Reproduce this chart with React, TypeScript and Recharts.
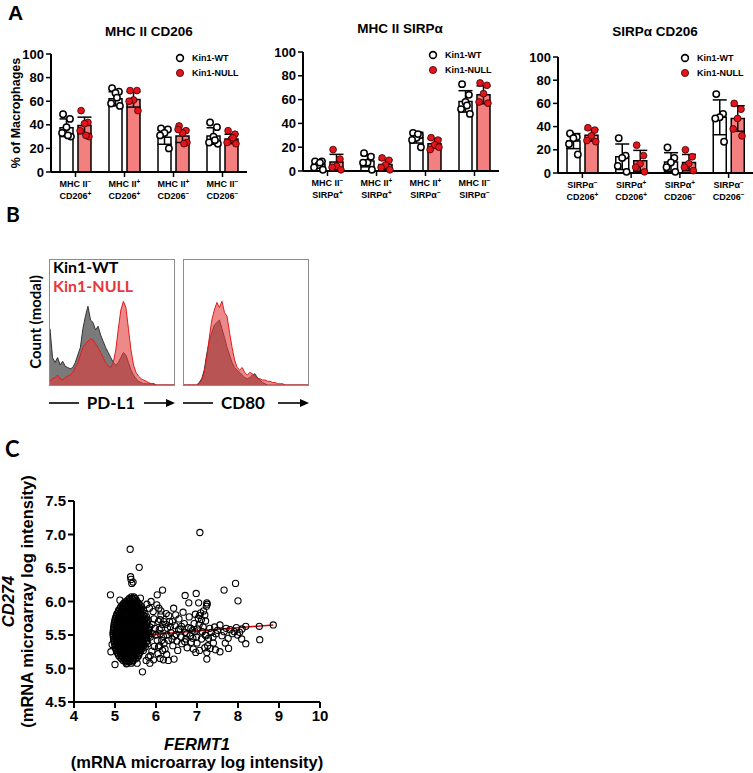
import React from "react";
import {
  ComposedChart,
  Bar,
  ErrorBar,
  Scatter,
  XAxis,
  YAxis,
  AreaChart,
  Area,
  ScatterChart,
  ReferenceLine,
} from "recharts";

const ARIAL = "'Liberation Sans', Arial, sans-serif";
const CALIBRI = "Lato, 'Open Sans', sans-serif";
const RED_DOT = "#e4141b";
const RED_BAR = "#f47f7f";

// ---------- A: macrophage subsets (% of macrophages)
const groups = ["Kin1-WT", "Kin1-NULL"];
const pctTicks = [0, 20, 40, 60, 80, 100];

const cd206Labels = [
  ["MHC II", "-", "CD206", "+"],
  ["MHC II", "+", "CD206", "+"],
  ["MHC II", "+", "CD206", "-"],
  ["MHC II", "-", "CD206", "-"],
];
const cd206WtMean = [37.5, 62, 29.5, 30.5];
const cd206WtSd = [7.5, 6, 6, 7];
const cd206NullMean = [39.5, 61.5, 30.5, 28];
const cd206NullSd = [7, 6.5, 5.5, 4];
const cd206WtDots = [
  [49, 45, 38, 33, 30, 31],
  [71, 68, 67, 58, 56, 63],
  [37, 36, 33, 31, 20],
  [42, 38, 30, 25, 24, 27],
];
const cd206NullDots = [
  [52, 42, 41, 35, 30, 31],
  [69, 69, 61, 60, 52],
  [39, 35, 33, 36, 25, 24],
  [35, 32, 28, 25, 24, 29],
];

const sirpLabels = [
  ["MHC II", "-", "SIRPα", "+"],
  ["MHC II", "+", "SIRPα", "+"],
  ["MHC II", "+", "SIRPα", "-"],
  ["MHC II", "-", "SIRPα", "-"],
];
const sirpWtMean = [5.5, 8.5, 28, 58.5];
const sirpWtSd = [3, 5, 4.5, 9];
const sirpNullMean = [7.5, 5.5, 23, 64];
const sirpNullSd = [6.5, 4, 4, 7.5];
const sirpWtDots = [
  [8, 8, 5, 3, 1, 7],
  [15, 12, 7, 7, 1],
  [32, 30, 28, 26, 20, 31],
  [73, 64, 58, 52, 48, 55],
];
const sirpNullDots = [
  [18, 10, 4, 3, 1],
  [11, 9, 5, 3, 1],
  [28, 26, 22, 18, 20],
  [74, 72, 65, 58, 57],
];

const sirpCdLabels = [
  ["SIRPα", "-", "CD206", "+"],
  ["SIRPα", "+", "CD206", "+"],
  ["SIRPα", "+", "CD206", "-"],
  ["SIRPα", "-", "CD206", "-"],
];
const sirpCdWtMean = [27.5, 14, 9.5, 48];
const sirpCdWtSd = [6.5, 11, 8, 15];
const sirpCdNullMean = [32.5, 10.5, 9, 47];
const sirpCdNullSd = [5, 9, 7, 11];
const sirpCdWtDots = [
  [34, 31, 30, 25, 16],
  [30, 15, 13, 6, 1],
  [22, 13, 9, 5, 1],
  [68, 51, 48, 47, 27],
];
const sirpCdNullDots = [
  [39, 37, 32, 28, 27],
  [24, 15, 8, 5, 1],
  [20, 14, 8, 5, 2],
  [60, 55, 47, 38, 32],
];

// ---------- B: histograms (modal count, % of max per bin)
const pdl1Wt = [
  45, 22, 18, 22, 16, 19, 15, 14, 13, 14, 18, 24, 30, 45, 55, 63, 52, 50, 44, 47,
  40, 35, 30, 26, 22, 18, 16, 18, 22, 26, 24, 18, 12, 8, 5, 3, 2, 1, 1, 1,
  1, 1, 0, 0, 0, 0, 0, 0, 0, 0,
];
const pdl1Null = [
  3, 5, 6, 8, 5, 4, 6, 7, 8, 10, 14, 18, 24, 30, 33, 35, 37, 36, 33, 30,
  26, 22, 18, 15, 14, 18, 28, 45, 60, 67, 62, 45, 28, 16, 10, 7, 5, 4, 3, 2,
  1, 1, 0, 0, 0, 0, 0, 0, 0, 0,
];
const cd80Wt = [
  0, 0, 0, 0, 0, 0, 2, 5, 12, 25, 35, 42, 48, 50, 52, 45, 38, 30, 24, 18,
  14, 12, 10, 8, 6, 5, 6, 8, 9, 6, 4, 2, 1, 0, 0, 0, 0, 0, 0, 0,
  0, 0, 0, 0, 0, 0, 0, 0, 0, 0,
];
const cd80Null = [
  0, 0, 0, 0, 0, 0, 1, 4, 10, 22, 38, 52, 60, 66, 62, 67, 58, 55, 42, 30,
  20, 14, 12, 14, 10, 8, 10, 9, 7, 5, 5, 4, 4, 3, 3, 2, 2, 1, 1, 1,
  0, 0, 0, 0, 0, 0, 0, 0, 0, 0,
];

// ---------- C: FERMT1 vs CD274 microarray intensities
// dense core, rows of [CD274, FERMT1 values]
const coreRows: [number, number[]][] = [
  [6.07, [5.4, 5.46]],
  [6.045, [5.35, 5.42, 5.49]],
  [6.02, [5.31, 5.37, 5.44, 5.52]],
  [5.995, [5.25, 5.32, 5.4, 5.47, 5.54]],
  [5.97, [5.21, 5.28, 5.35, 5.43, 5.5, 5.58]],
  [5.945, [5.18, 5.25, 5.33, 5.4, 5.46, 5.53, 5.61]],
  [5.92, [5.14, 5.21, 5.3, 5.36, 5.42, 5.49, 5.57, 5.65]],
  [5.895, [5.12, 5.19, 5.27, 5.34, 5.41, 5.49, 5.56, 5.63]],
  [5.87, [5.09, 5.17, 5.24, 5.31, 5.38, 5.46, 5.53, 5.61, 5.69]],
  [5.845, [5.08, 5.15, 5.22, 5.3, 5.37, 5.44, 5.51, 5.58, 5.66]],
  [5.82, [5.05, 5.12, 5.19, 5.27, 5.34, 5.41, 5.48, 5.55, 5.63, 5.73]],
  [5.795, [5.04, 5.11, 5.18, 5.26, 5.33, 5.4, 5.47, 5.54, 5.62, 5.7]],
  [5.77, [5.02, 5.09, 5.16, 5.23, 5.31, 5.38, 5.44, 5.51, 5.59, 5.67, 5.77]],
  [5.745, [5.01, 5.08, 5.15, 5.22, 5.3, 5.37, 5.44, 5.51, 5.58, 5.66, 5.75]],
  [5.72, [5.0, 5.07, 5.14, 5.21, 5.28, 5.35, 5.42, 5.49, 5.56, 5.64, 5.72, 5.81]],
  [5.695, [4.99, 5.06, 5.13, 5.2, 5.27, 5.34, 5.41, 5.48, 5.55, 5.62, 5.7, 5.78]],
  [5.67, [4.98, 5.05, 5.12, 5.19, 5.26, 5.33, 5.4, 5.47, 5.54, 5.61, 5.69, 5.78]],
  [5.645, [4.98, 5.05, 5.12, 5.19, 5.26, 5.33, 5.4, 5.47, 5.54, 5.61, 5.68, 5.76]],
  [5.62, [4.97, 5.04, 5.11, 5.18, 5.25, 5.32, 5.39, 5.46, 5.53, 5.6, 5.67, 5.75, 5.85]],
  [5.595, [4.97, 5.04, 5.11, 5.18, 5.25, 5.32, 5.39, 5.46, 5.53, 5.6, 5.67, 5.75, 5.82]],
  [5.57, [4.96, 5.03, 5.1, 5.17, 5.24, 5.31, 5.38, 5.45, 5.52, 5.59, 5.66, 5.74, 5.83]],
  [5.545, [4.96, 5.03, 5.1, 5.17, 5.24, 5.31, 5.38, 5.45, 5.52, 5.59, 5.66, 5.74, 5.82]],
  [5.52, [4.95, 5.02, 5.09, 5.16, 5.23, 5.3, 5.37, 5.44, 5.51, 5.58, 5.65, 5.73, 5.82, 5.91]],
  [5.495, [4.96, 5.03, 5.1, 5.17, 5.24, 5.31, 5.38, 5.45, 5.52, 5.59, 5.66, 5.75, 5.84]],
  [5.47, [4.96, 5.03, 5.1, 5.17, 5.24, 5.31, 5.38, 5.45, 5.52, 5.59, 5.67, 5.76, 5.86]],
  [5.445, [4.97, 5.04, 5.11, 5.18, 5.25, 5.32, 5.39, 5.46, 5.53, 5.6, 5.68, 5.77]],
  [5.42, [4.97, 5.04, 5.11, 5.18, 5.25, 5.32, 5.39, 5.46, 5.53, 5.6, 5.68, 5.78]],
  [5.395, [4.98, 5.05, 5.12, 5.19, 5.26, 5.33, 5.4, 5.47, 5.54, 5.61, 5.69, 5.77]],
  [5.37, [4.99, 5.06, 5.13, 5.2, 5.27, 5.34, 5.41, 5.48, 5.55, 5.62, 5.7, 5.8]],
  [5.345, [5.0, 5.07, 5.14, 5.21, 5.28, 5.35, 5.42, 5.49, 5.56, 5.63, 5.71]],
  [5.32, [5.01, 5.08, 5.15, 5.22, 5.29, 5.36, 5.43, 5.5, 5.57, 5.65, 5.74]],
  [5.295, [5.02, 5.09, 5.16, 5.23, 5.3, 5.37, 5.44, 5.51, 5.58, 5.66]],
  [5.27, [5.03, 5.1, 5.17, 5.24, 5.31, 5.38, 5.45, 5.52, 5.6, 5.69]],
  [5.245, [5.05, 5.12, 5.19, 5.26, 5.33, 5.4, 5.47, 5.54, 5.62]],
  [5.22, [5.07, 5.14, 5.21, 5.28, 5.35, 5.42, 5.49, 5.57]],
  [5.195, [5.09, 5.16, 5.23, 5.3, 5.37, 5.44, 5.51, 5.58]],
  [5.17, [5.12, 5.19, 5.26, 5.33, 5.4, 5.47, 5.55]],
  [5.145, [5.16, 5.23, 5.3, 5.37, 5.44, 5.51]],
  [5.12, [5.2, 5.28, 5.36, 5.44]],
  [5.1, [5.25, 5.34, 5.43]],
  [5.08, [5.3, 5.4]],
];
// [FERMT1, CD274]
const spreadPts: [number, number][] = [
  [5.78, 5.96], [5.84, 5.9], [5.88, 6.0], [5.93, 5.85], [5.95, 5.74], [5.9, 5.66], [5.97, 5.6],
  [6.0, 5.5], [6.03, 5.42], [5.96, 5.33], [5.9, 5.26], [5.86, 5.19], [5.94, 5.13], [6.05, 5.22],
  [6.08, 5.58], [6.1, 5.73], [6.12, 5.86], [6.15, 5.66], [6.18, 5.48], [6.2, 5.38], [6.22, 5.29],
  [6.26, 5.21], [6.28, 5.6], [6.31, 5.79], [6.33, 5.7], [6.36, 5.54], [6.39, 5.44], [6.41, 5.34],
  [6.43, 5.9], [6.46, 5.64], [6.49, 5.51], [6.51, 5.41], [6.53, 5.27], [6.56, 5.74], [6.59, 5.59],
  [6.61, 5.47], [6.63, 5.37], [6.66, 5.84], [6.69, 5.67], [6.71, 5.54], [6.73, 5.44], [6.76, 5.31],
  [6.79, 5.61], [6.81, 5.77], [6.83, 5.49], [6.86, 5.39], [6.89, 5.57], [6.91, 5.29], [6.93, 5.67],
  [6.96, 5.81], [6.99, 5.47], [7.01, 5.59], [7.03, 5.75], [7.06, 5.79], [7.09, 5.83], [7.11, 5.73],
  [7.13, 5.55], [7.16, 5.86], [7.19, 5.8], [7.21, 5.71], [7.23, 5.93], [7.25, 5.96], [7.22, 5.49],
  [7.26, 5.34], [7.24, 5.24], [7.19, 5.31], [7.11, 5.44], [7.06, 5.27], [6.97, 5.24], [7.31, 5.6],
  [7.35, 5.54], [7.39, 5.47], [7.43, 5.62], [7.46, 5.52], [7.5, 5.57], [7.56, 5.65], [7.61, 5.49],
  [7.66, 5.55], [7.71, 5.6], [7.76, 5.45], [7.81, 5.58], [7.86, 5.52], [7.91, 5.55], [7.96, 5.61],
  [8.04, 5.54], [8.1, 5.59], [6.02, 5.95], [6.07, 5.9], [6.12, 5.8], [6.06, 5.7], [6.13, 5.6],
  [6.1, 5.52], [6.14, 5.42], [6.09, 5.34], [6.16, 5.27], [6.06, 5.32], [6.19, 5.7], [6.24, 5.66],
  [6.27, 5.5], [6.3, 5.42], [6.25, 5.82], [6.35, 5.62], [6.4, 5.7], [6.45, 5.48], [6.48, 5.8],
  [6.55, 5.58], [6.62, 5.63], [6.7, 5.4], [6.75, 5.52], [6.85, 5.6], [6.9, 5.45], [6.95, 5.55],
  [7.0, 5.38], [7.05, 5.65], [7.15, 5.62], [7.2, 5.5], [7.28, 5.45], [7.32, 5.3], [7.4, 5.38],
  [7.45, 5.28], [5.76, 5.12], [5.82, 5.17], [6.1, 5.15], [6.3, 5.12],
];
const outlierPts: [number, number][] = [
  [7.07, 7.03], [5.37, 6.78], [5.59, 6.51], [5.38, 6.37], [5.39, 6.33], [5.44, 6.29], [5.41, 6.27],
  [4.89, 6.1], [5.12, 6.02], [6.16, 6.17], [6.03, 6.1], [6.71, 6.09], [6.98, 6.12], [7.66, 6.17],
  [7.94, 6.27], [8.0, 6.01], [6.8, 5.98], [7.04, 5.98], [7.24, 5.98], [5.62, 6.05], [8.86, 5.65],
  [8.52, 5.63], [8.19, 5.63], [8.53, 5.43], [8.19, 5.37], [8.09, 5.44], [7.99, 5.5], [7.77, 5.3],
  [7.69, 5.38], [7.56, 5.25], [7.24, 5.14], [6.44, 5.14], [6.18, 5.13], [5.85, 5.08], [5.67, 4.95],
  [5.0, 5.06], [4.9, 5.25], [4.93, 5.36], [5.28, 5.07], [5.54, 5.08],
];
const fitLine = [
  { x: 4.92, y: 5.46 },
  { x: 8.86, y: 5.65 },
];
const fermtTicks = [4, 5, 6, 7, 8, 9, 10];
const cd274Ticks = [4.5, 5, 5.5, 6, 6.5, 7, 7.5];

// ---------- helpers
const SPREAD = [-0.07, 0.07, 0, -0.09, 0.09, 0.03];
const BAR_OFFSET = 0.184;

function makeRows(labels: string[][], wtMean: number[], wtSd: number[], nullMean: number[], nullSd: number[]) {
  return labels.map((l, i) => ({
    name: `${l[0]}${l[1]} ${l[2]}${l[3]}`,
    wt: wtMean[i],
    wtErr: wtSd[i],
    nul: nullMean[i],
    nulErr: nullSd[i],
  }));
}

function makeDots(dots: number[][], side: number) {
  return dots.flatMap((vals, i) =>
    vals.map((v, j) => ({ x: i + 0.5 + side * BAR_OFFSET + SPREAD[j % SPREAD.length], y: v }))
  );
}

const supSign = (s: string) => (s === "-" ? "\u2212" : "+");

const CatTick = (props: any) => {
  const { x, y, index, labels } = props;
  const l = labels[index];
  if (!l) return null;
  return (
    <g transform={`translate(${x},${y})`} fontFamily={ARIAL} fontWeight="bold" fill="#000">
      <text x={0} y={8} textAnchor="middle" fontSize={9}>
        {l[0]}
        <tspan fontSize={6.5} dy={-3.5}>{supSign(l[1])}</tspan>
      </text>
      <text x={0} y={20} textAnchor="middle" fontSize={9}>
        {l[2]}
        <tspan fontSize={6.5} dy={-3.5}>{supSign(l[3])}</tspan>
      </text>
    </g>
  );
};

const OpenDot = (p: any) => (
  <circle cx={p.cx} cy={p.cy} r={3.2} fill="#fff" stroke="#000" strokeWidth={1.5} />
);
const RedDot = (p: any) => (
  <circle cx={p.cx} cy={p.cy} r={3.4} fill={RED_DOT} stroke="#3a0000" strokeWidth={0.8} />
);

interface BarPanelProps {
  left: number;
  top: number;
  width: number;
  height: number;
  yw: number;
  right: number;
  labels: string[][];
  rows: any[];
  wtDots: any[];
  nullDots: any[];
  yLabel?: string;
}

const BarPanel: React.FC<BarPanelProps> = ({ left, top, width, height, yw, right, labels, rows, wtDots, nullDots, yLabel }) => (
  <div style={{ position: "absolute", left, top }}>
    <ComposedChart width={width} height={height} data={rows} barGap={5} margin={{ top: 10, right, bottom: 0, left: 0 }}>
      <XAxis
        xAxisId="cat"
        dataKey="name"
        interval={0}
        height={35}
        tickSize={5}
        axisLine={{ stroke: "#000", strokeWidth: 2 }}
        tickLine={{ stroke: "#000", strokeWidth: 1.5 }}
        tick={<CatTick labels={labels} />}
      />
      <XAxis xAxisId="dots" type="number" dataKey="x" domain={[0, 4]} allowDataOverflow hide />
      <YAxis
        domain={[0, 100]}
        ticks={pctTicks}
        interval={0}
        width={yw}
        tickSize={5}
        axisLine={{ stroke: "#000", strokeWidth: 2 }}
        tickLine={{ stroke: "#000", strokeWidth: 1.5 }}
        tick={{ fill: "#000", fontSize: 13, fontWeight: "bold", fontFamily: ARIAL }}
        label={
          yLabel
            ? (p: any) => {
                const vb = p.viewBox;
                const cy = vb.y + vb.height / 2;
                return (
                  <text
                    x={20}
                    y={cy}
                    transform={`rotate(-90, 20, ${cy})`}
                    textAnchor="middle"
                    fontFamily={ARIAL}
                    fontWeight="bold"
                    fontSize={12.5}
                    fill="#000"
                  >
                    {yLabel}
                  </text>
                );
              }
            : undefined
        }
      />
      <Bar xAxisId="cat" dataKey="wt" name={groups[0]} barSize={13} fill="#fff" stroke="#000" strokeWidth={1.5} isAnimationActive={false}>
        <ErrorBar dataKey="wtErr" width={7} stroke="#000" strokeWidth={1.5} />
      </Bar>
      <Bar xAxisId="cat" dataKey="nul" name={groups[1]} barSize={13} fill={RED_BAR} stroke="#000" strokeWidth={1.5} isAnimationActive={false}>
        <ErrorBar dataKey="nulErr" width={7} stroke="#000" strokeWidth={1.5} />
      </Bar>
      <Scatter xAxisId="dots" data={wtDots} dataKey="y" shape={OpenDot} isAnimationActive={false} />
      <Scatter xAxisId="dots" data={nullDots} dataKey="y" shape={RedDot} isAnimationActive={false} />
    </ComposedChart>
  </div>
);

const DotLegend = ({ x, y }: { x: number; y: number }) => (
  <g fontFamily={ARIAL} fontWeight="bold" fontSize={9} fill="#000">
    <circle cx={x} cy={y} r={3.4} fill="#fff" stroke="#000" strokeWidth={1.6} />
    <text x={x + 12} y={y + 3.2}>{groups[0]}</text>
    <circle cx={x} cy={y + 15} r={3.6} fill={RED_DOT} stroke="#3a0000" strokeWidth={0.8} />
    <text x={x + 12} y={y + 18.2}>{groups[1]}</text>
  </g>
);

const Hist = ({ left, wt, nul }: { left: number; wt: number[]; nul: number[] }) => {
  const data = wt.map((v, i) => ({ bin: i, wt: v, nul: nul[i] }));
  return (
    <div
      style={{
        position: "absolute",
        left,
        top: 259,
        width: 126,
        height: 127,
        border: "1px solid #8c8c8c",
        boxSizing: "border-box",
      }}
    >
      <AreaChart width={124} height={125} data={data} margin={{ top: 0, right: 0, bottom: 0, left: 0 }}>
        <XAxis type="number" dataKey="bin" domain={[0, wt.length - 1]} hide />
        <YAxis domain={[0, 100]} hide />
        <Area type="linear" dataKey="wt" fill="#7a7a7a" fillOpacity={1} stroke="#333" strokeWidth={1} isAnimationActive={false} />
        <Area type="linear" dataKey="nul" fill="#e23a3a" fillOpacity={0.6} stroke="#e01c1c" strokeWidth={1} isAnimationActive={false} />
      </AreaChart>
    </div>
  );
};

const ArrowAxis = ({ x, text, textX }: { x: number; text: string; textX: number }) => (
  <g>
    <line x1={x} x2={x + 30} y1={403} y2={403} stroke="#000" strokeWidth={1.6} />
    <text x={x + textX} y={409} textAnchor="middle" fontFamily={CALIBRI} fontWeight="bold" fontSize={17} fill="#000">
      {text}
    </text>
    <line x1={x + 95} x2={x + 119} y1={403} y2={403} stroke="#000" strokeWidth={1.6} />
    <polygon points={`${x + 126},403 ${x + 117},399 ${x + 117},407`} fill="#000" />
  </g>
);

const scatterPoints = [
  ...coreRows.flatMap(([y, xs]) => xs.map((x) => ({ x, y }))),
  ...spreadPts.map(([x, y]) => ({ x, y })),
  ...outlierPts.map(([x, y]) => ({ x, y })),
];

const SmallCircle = (p: any) => (
  <circle cx={p.cx} cy={p.cy} r={3.1} fill="none" stroke="#000" strokeWidth={1.1} />
);

export default function App() {
  return (
    <div style={{ position: "absolute", left: 0, top: 0, width: 753, height: 773, background: "#fff", overflow: "hidden" }}>
      <BarPanel
        left={0}
        top={44}
        width={253}
        height={163}
        yw={51}
        right={6}
        labels={cd206Labels}
        rows={makeRows(cd206Labels, cd206WtMean, cd206WtSd, cd206NullMean, cd206NullSd)}
        wtDots={makeDots(cd206WtDots, -1)}
        nullDots={makeDots(cd206NullDots, 1)}
        yLabel="% of Macrophages"
      />
      <BarPanel
        left={263}
        top={42}
        width={242}
        height={164}
        yw={40}
        right={6}
        labels={sirpLabels}
        rows={makeRows(sirpLabels, sirpWtMean, sirpWtSd, sirpNullMean, sirpNullSd)}
        wtDots={makeDots(sirpWtDots, -1)}
        nullDots={makeDots(sirpNullDots, 1)}
      />
      <BarPanel
        left={518}
        top={47}
        width={235}
        height={161}
        yw={40}
        right={0}
        labels={sirpCdLabels}
        rows={makeRows(sirpCdLabels, sirpCdWtMean, sirpCdWtSd, sirpCdNullMean, sirpCdNullSd)}
        wtDots={makeDots(sirpCdWtDots, -1)}
        nullDots={makeDots(sirpCdNullDots, 1)}
      />

      <Hist left={49} wt={pdl1Wt} nul={pdl1Null} />
      <Hist left={183} wt={cd80Wt} nul={cd80Null} />

      <div style={{ position: "absolute", left: 0, top: 462 }}>
        <ScatterChart width={345} height={311} margin={{ top: 39, right: 25, bottom: 0, left: 0 }}>
          <XAxis
            type="number"
            dataKey="x"
            domain={[4, 10]}
            ticks={fermtTicks}
            interval={0}
            height={71}
            tickSize={6}
            axisLine={{ stroke: "#000", strokeWidth: 2 }}
            tickLine={{ stroke: "#000", strokeWidth: 2 }}
            tick={{ fill: "#000", fontSize: 15, fontWeight: "bold", fontFamily: ARIAL }}
            label={(p: any) => {
              const vb = p.viewBox;
              const cx = vb.x + vb.width / 2;
              return (
                <g fontFamily={ARIAL} fontWeight="bold" fontSize={16.5} fill="#000" textAnchor="middle">
                  <text x={cx} y={vb.y + 48} fontStyle="italic">FERMT1</text>
                  <text x={cx} y={vb.y + 66}>(mRNA microarray log intensity)</text>
                </g>
              );
            }}
          />
          <YAxis
            type="number"
            dataKey="y"
            domain={[4.5, 7.5]}
            ticks={cd274Ticks}
            interval={0}
            tickFormatter={(v: number) => v.toFixed(1)}
            width={74}
            tickSize={6}
            axisLine={{ stroke: "#000", strokeWidth: 2 }}
            tickLine={{ stroke: "#000", strokeWidth: 2 }}
            tick={{ fill: "#000", fontSize: 15, fontWeight: "bold", fontFamily: ARIAL }}
            label={(p: any) => {
              const vb = p.viewBox;
              const cy = vb.y + vb.height / 2;
              return (
                <g fontFamily={ARIAL} fontWeight="bold" fontSize={16.5} fill="#000" textAnchor="middle">
                  <text x={14} y={cy} transform={`rotate(-90, 14, ${cy})`} fontStyle="italic">CD274</text>
                  <text x={33} y={cy} transform={`rotate(-90, 33, ${cy})`}>(mRNA microarray log intensity)</text>
                </g>
              );
            }}
          />
          <ReferenceLine segment={fitLine} stroke="#e00000" strokeWidth={1.6} />
          <Scatter data={scatterPoints} shape={SmallCircle} isAnimationActive={false} />
        </ScatterChart>
      </div>

      <svg width={753} height={773} style={{ position: "absolute", left: 0, top: 0, pointerEvents: "none" }}>
        <text x={8} y={20} fontFamily={ARIAL} fontWeight="bold" fontSize={21} fill="#000">A</text>
        <g fontFamily={ARIAL} fontWeight="bold" fontSize={13.5} fill="#000" textAnchor="middle">
          <text x={149} y={36}>MHC II CD206</text>
          <text x={400} y={33}>MHC II SIRPα</text>
          <text x={655} y={36}>SIRPα CD206</text>
        </g>
        <DotLegend x={180} y={58} />
        <DotLegend x={433} y={55} />
        <DotLegend x={685} y={58} />

        <text x={6} y={222} fontFamily={CALIBRI} fontWeight="bold" fontSize={21} fill="#000">B</text>
        <text x={41} y={322} transform="rotate(-90, 41, 322)" textAnchor="middle" fontFamily={CALIBRI} fontWeight="bold" fontSize={15} fill="#000">
          Count (modal)
        </text>
        <text x={53} y={273} fontFamily={CALIBRI} fontWeight="bold" fontSize={16} fill="#000">{groups[0]}</text>
        <text x={53} y={292} fontFamily={CALIBRI} fontWeight="bold" fontSize={16} fill="#e8383d">{groups[1]}</text>
        <ArrowAxis x={49} text="PD-L1" textX={62} />
        <ArrowAxis x={183} text="CD80" textX={60} />

        <text x={5} y={457} fontFamily={CALIBRI} fontWeight="bold" fontSize={22} fill="#000">C</text>
      </svg>
    </div>
  );
}
